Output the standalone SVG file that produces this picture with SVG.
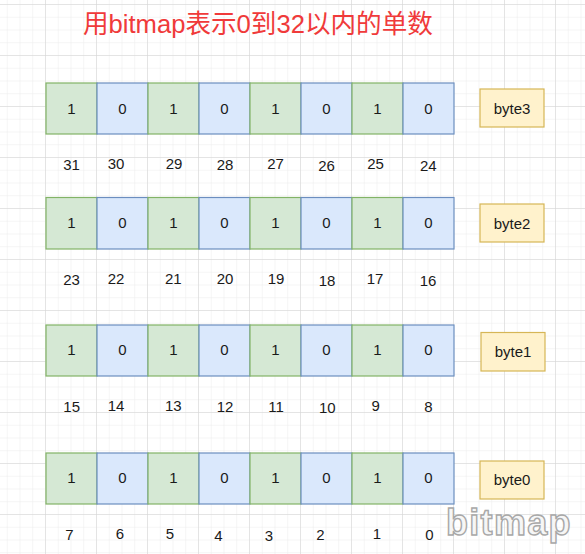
<svg xmlns="http://www.w3.org/2000/svg" width="585" height="554" viewBox="0 0 585 554">
<defs>
<pattern id="minor" x="-6" y="4" width="12.75" height="12.75" patternUnits="userSpaceOnUse">
<path d="M0 0H12.75M0 0V12.75" fill="none" stroke="#ebebeb" stroke-width="1"/>
</pattern>
<pattern id="major" x="-6" y="4" width="51" height="51" patternUnits="userSpaceOnUse">
<path d="M0 0H51M0 0V51" fill="none" stroke="#d4d4d4" stroke-width="1"/>
</pattern>
</defs>
<style>
text{font-family:"Liberation Sans",Arial,sans-serif;}
.g{fill:#d5e8d4;stroke:#82b366;stroke-width:1.2;}
.b{fill:#dae8fc;stroke:#6c8ebf;stroke-width:1.2;}
.y{fill:#fff2cc;stroke:#d6b656;stroke-width:1.2;}
.t{font-size:15px;fill:#1a1a1a;text-anchor:middle;}
.title{font-family:"Liberation Sans","Noto Sans CJK SC",sans-serif;font-size:25.6px;fill:#f03a3a;}
.wm{font-size:36px;font-weight:bold;fill:#f6f6f6;stroke:#a8a8a8;stroke-width:1.4;letter-spacing:1.3px;}
</style>
<rect width="585" height="554" fill="#ffffff"/>
<rect width="585" height="554" fill="url(#minor)"/>
<rect width="585" height="554" fill="url(#major)"/>
<text class="title" x="83" y="33">用bitmap表示0到32以内的单数</text>
<g id="connectors"/>
<g id="row3">
<rect class="g" x="46" y="83" width="51" height="51"/><text class="t" x="71.5" y="113.5">1</text>
<rect class="b" x="97" y="83" width="51" height="51"/><text class="t" x="122.5" y="113.5">0</text>
<rect class="g" x="148" y="83" width="51" height="51"/><text class="t" x="173.5" y="113.5">1</text>
<rect class="b" x="199" y="83" width="51" height="51"/><text class="t" x="224.5" y="113.5">0</text>
<rect class="g" x="250" y="83" width="51" height="51"/><text class="t" x="275.5" y="113.5">1</text>
<rect class="b" x="301" y="83" width="51" height="51"/><text class="t" x="326.5" y="113.5">0</text>
<rect class="g" x="352" y="83" width="51" height="51"/><text class="t" x="377.5" y="113.5">1</text>
<rect class="b" x="403" y="83" width="51" height="51"/><text class="t" x="428.5" y="113.5">0</text>
</g>
<g id="byte3"><rect class="y" x="480" y="89" width="64" height="38"/><text class="t" x="512" y="113.5">byte3</text></g>
<g id="labels3">
<text class="t" x="71.5" y="170">31</text><text class="t" x="116" y="169">30</text><text class="t" x="174" y="169.3">29</text><text class="t" x="225" y="170">28</text><text class="t" x="275.5" y="169.3">27</text><text class="t" x="326.5" y="170.7">26</text><text class="t" x="375.5" y="169">25</text><text class="t" x="428.3" y="170.7">24</text>
</g>
<g id="row2">
<rect class="g" x="46" y="197.5" width="51" height="51.5"/><text class="t" x="71.5" y="228.3">1</text>
<rect class="b" x="97" y="197.5" width="51" height="51.5"/><text class="t" x="122.5" y="228.3">0</text>
<rect class="g" x="148" y="197.5" width="51" height="51.5"/><text class="t" x="173.5" y="228.3">1</text>
<rect class="b" x="199" y="197.5" width="51" height="51.5"/><text class="t" x="224.5" y="228.3">0</text>
<rect class="g" x="250" y="197.5" width="51" height="51.5"/><text class="t" x="275.5" y="228.3">1</text>
<rect class="b" x="301" y="197.5" width="51" height="51.5"/><text class="t" x="326.5" y="228.3">0</text>
<rect class="g" x="352" y="197.5" width="51" height="51.5"/><text class="t" x="377.5" y="228.3">1</text>
<rect class="b" x="403" y="197.5" width="51" height="51.5"/><text class="t" x="428.5" y="228.3">0</text>
</g>
<g id="byte2"><rect class="y" x="480" y="204" width="64" height="38"/><text class="t" x="512" y="228.5">byte2</text></g>
<g id="labels2">
<text class="t" x="71.5" y="285">23</text><text class="t" x="116" y="284.3">22</text><text class="t" x="173.3" y="284.3">21</text><text class="t" x="225" y="284.3">20</text><text class="t" x="276" y="284.3">19</text><text class="t" x="327" y="286">18</text><text class="t" x="375" y="284.3">17</text><text class="t" x="428" y="286">16</text>
</g>
<g id="row1">
<rect class="g" x="46" y="325" width="51" height="51"/><text class="t" x="71.5" y="355.3">1</text>
<rect class="b" x="97" y="325" width="51" height="51"/><text class="t" x="122.5" y="355.3">0</text>
<rect class="g" x="148" y="325" width="51" height="51"/><text class="t" x="173.5" y="355.3">1</text>
<rect class="b" x="199" y="325" width="51" height="51"/><text class="t" x="224.5" y="355.3">0</text>
<rect class="g" x="250" y="325" width="51" height="51"/><text class="t" x="275.5" y="355.3">1</text>
<rect class="b" x="301" y="325" width="51" height="51"/><text class="t" x="326.5" y="355.3">0</text>
<rect class="g" x="352" y="325" width="51" height="51"/><text class="t" x="377.5" y="355.3">1</text>
<rect class="b" x="403" y="325" width="51" height="51"/><text class="t" x="428.5" y="355.3">0</text>
</g>
<g id="byte1"><rect class="y" x="481" y="332.5" width="64" height="38.5"/><text class="t" x="513" y="357">byte1</text></g>
<g id="labels1">
<text class="t" x="71.7" y="412.3">15</text><text class="t" x="116" y="411">14</text><text class="t" x="173.3" y="411.3">13</text><text class="t" x="225" y="411.5">12</text><text class="t" x="276" y="411.5">11</text><text class="t" x="327.3" y="412.7">10</text><text class="t" x="375.7" y="411">9</text><text class="t" x="428.3" y="412.3">8</text>
</g>
<g id="row0">
<rect class="g" x="46" y="453" width="51" height="51"/><text class="t" x="71.5" y="483.3">1</text>
<rect class="b" x="97" y="453" width="51" height="51"/><text class="t" x="122.5" y="483.3">0</text>
<rect class="g" x="148" y="453" width="51" height="51"/><text class="t" x="173.5" y="483.3">1</text>
<rect class="b" x="199" y="453" width="51" height="51"/><text class="t" x="224.5" y="483.3">0</text>
<rect class="g" x="250" y="453" width="51" height="51"/><text class="t" x="275.5" y="483.3">1</text>
<rect class="b" x="301" y="453" width="51" height="51"/><text class="t" x="326.5" y="483.3">0</text>
<rect class="g" x="352" y="453" width="51" height="51"/><text class="t" x="377.5" y="483.3">1</text>
<rect class="b" x="403" y="453" width="51" height="51"/><text class="t" x="428.5" y="483.3">0</text>
</g>
<g id="byte0"><rect class="y" x="480" y="461" width="64" height="38"/><text class="t" x="512" y="485">byte0</text></g>
<g id="labels0">
<text class="t" x="69.3" y="540">7</text><text class="t" x="120" y="539.3">6</text><text class="t" x="170" y="539.3">5</text><text class="t" x="218.3" y="540.7">4</text><text class="t" x="269" y="540.7">3</text><text class="t" x="320.5" y="540">2</text><text class="t" x="377" y="539.3">1</text><text class="t" x="429.3" y="540">0</text>
</g>
<text class="wm" x="446" y="535">bitmap</text>
</svg>
